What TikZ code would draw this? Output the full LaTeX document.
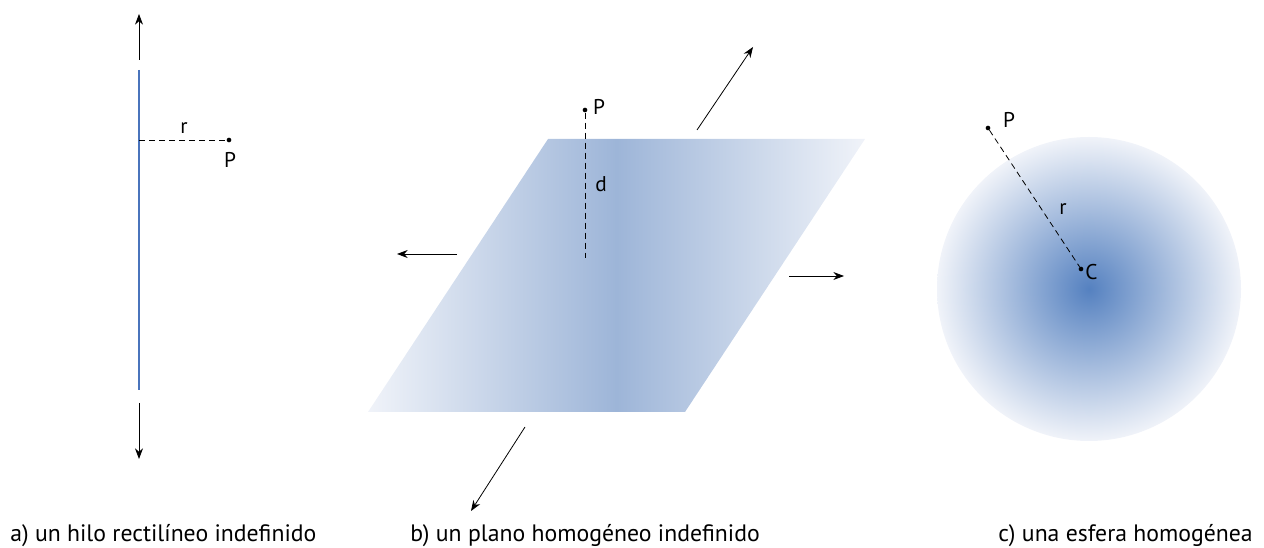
\documentclass[tikz,border=0pt]{standalone}
\usepackage{fontspec}
\setmainfont{PT Sans}
\usetikzlibrary{arrows.meta, shadings}

\definecolor{wireblue}{HTML}{4A74BC}
\definecolor{planedark}{HTML}{9DB5D8}
\definecolor{planelight}{HTML}{F0F3F9}
\definecolor{ballcore}{HTML}{5581C0}
\definecolor{ballrim}{HTML}{F0F3F9}

\begin{document}
\begin{tikzpicture}[x=0.75pt, y=-0.75pt,
    arrow/.style={-{Stealth[length=8pt, width=6pt]}, semithick},
    guide/.style={semithick, dash pattern=on 4.5pt off 3pt},
    dot/.style={circle, fill, inner sep=0pt, minimum size=3.5pt},
    lbl/.style={font=\fontsize{16}{19}\selectfont, inner sep=1pt},
    caption/.style={font=\fontsize{17.8}{21}\selectfont, anchor=west, inner sep=0pt}
]
\useasboundingbox (0,0) rectangle (1264,548);

% a) hilo
\draw[wireblue, line width=1.5pt] (139,70) -- (139,390);
\coordinate (wireup) at (139,60);
\coordinate (wireuptip) at (139,14);
\coordinate (wiredown) at (139,403);
\coordinate (wiredowntip) at (139,459);
\draw[arrow] (wireup) -- (wireuptip);
\draw[arrow] (wiredown) -- (wiredowntip);
\coordinate (wirefoot) at (139,140);
\node (pa) [dot] at (229,140) {};
\draw[guide] (wirefoot) -- (pa);
\node (ra) [lbl] at (184,128) {r};
\node (pla) [lbl] at (230,160) {P};

% b) plano
\shade[left color=planelight, right color=planelight, middle color=planedark]
    (548,139) -- (865,139) -- (685,412) -- (368,412) -- cycle;
\node (pb) [dot] at (585,110) {};
\coordinate (planefoot) at (585,258);
\draw[guide] (pb) -- (planefoot);
\node (plb) [lbl] at (599,107) {P};
\node (db) [lbl] at (601,184) {d};
\coordinate (nea) at (697,130);
\coordinate (neatip) at (753,47);
\coordinate (west) at (457,254);
\coordinate (westtip) at (397,254);
\coordinate (east) at (789,276);
\coordinate (easttip) at (844,276);
\coordinate (swa) at (525,427);
\coordinate (swatip) at (471,511);
\draw[arrow] (nea) -- (neatip);
\draw[arrow] (west) -- (westtip);
\draw[arrow] (east) -- (easttip);
\draw[arrow] (swa) -- (swatip);

% c) esfera
\shade[inner color=ballcore, outer color=ballrim] (1089,289) circle (152);
\node (pc) [dot] at (988,128) {};
\node (cc) [dot] at (1081,269) {};
\draw[guide] (pc) -- (cc);
\node (plc) [lbl] at (1009,120) {P};
\node (rc) [lbl] at (1063,209) {r};
\node (clc) [lbl, anchor=west, inner sep=0pt] at (1085,272) {C};

% pies
\node (capa) [caption] at (10,536) {a) un hilo rectilíneo indefinido};
\node (capb) [caption] at (410,536) {b) un plano homogéneo indefinido};
\node (capc) [caption] at (998,536) {c) una esfera homogénea};

\end{tikzpicture}
\end{document}
